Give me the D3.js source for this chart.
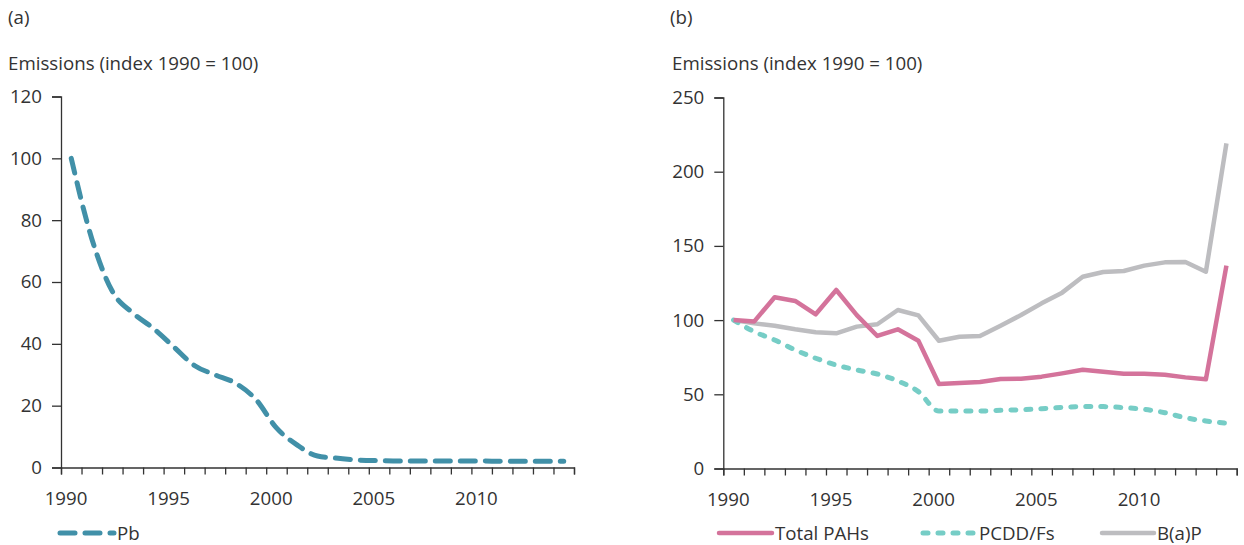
<!DOCTYPE html>
<html>
<head>
<meta charset="utf-8">
<script src="https://cdn.jsdelivr.net/npm/d3@7"></script>
<style>
  html, body { margin: 0; padding: 0; background: #fff; }
  svg { display: block; }
  text { font-family: "Open Sans", "Noto Sans", sans-serif; fill: #333; }
</style>
</head>
<body>
<svg id="chart" width="1244" height="545"></svg>
<script>
// Years covered by both panels
const years = d3.range(1990, 2015);
const yearLabels = [1990, 1995, 2000, 2005, 2010];

// Panel (a): lead
const pb = [100, 74, 57, 50, 45, 39, 33, 30, 27.3, 22, 12.8, 7.3, 3.7, 3.0, 2.4, 2.2, 2.1, 2.1, 2.1, 2.1, 2.1, 2.0, 2.0, 2.0, 2.0];

// Panel (b)
const totalPAHs = [100, 99, 115.4, 112.9, 103.9, 120.3, 103.4, 89.3, 93.8, 86.1, 56.9, 57.6, 58.3, 60.3, 60.5, 61.9, 64.1, 66.6, 65.2, 63.9, 63.9, 63.2, 61.4, 60.1, 136.7];
const pcddFs = [100, 92.2, 86.6, 79.9, 74.3, 69.7, 66.4, 63.7, 59, 51.8, 38.7, 38.7, 38.7, 39.2, 39.6, 40.3, 41.2, 41.7, 41.7, 41, 39.9, 37.6, 34.2, 32, 30.5];
const bap = [100, 97.8, 96.2, 93.8, 91.8, 91.1, 95.6, 97.2, 106.8, 103.2, 86.1, 88.8, 89.3, 96.2, 103.4, 111.3, 118.5, 129.2, 132.4, 133.1, 136.7, 138.9, 139.2, 132.6, 219.1];

const yTicksA = [0, 20, 40, 60, 80, 100, 120];
const yTicksB = [0, 50, 100, 150, 200, 250];

const svg = d3.select("#chart");
const FONT = 18.7;

function drawAxes(g, x, y, yTicks) {
  const xAxis = d3.axisBottom(x)
    .tickValues(d3.range(1990, 2016))
    .tickSize(7)
    .tickPadding(17)
    .tickFormat(d => yearLabels.includes(d) ? String(d) : "");
  const gx = g.append("g")
    .attr("transform", `translate(0,${y(0)})`)
    .call(xAxis);
  gx.selectAll("text").attr("dx", 4.5);

  const yAxis = d3.axisLeft(y)
    .tickValues(yTicks)
    .tickSize(9)
    .tickPadding(10);
  g.append("g")
    .attr("transform", `translate(${x(1990)},0)`)
    .call(yAxis);

  g.selectAll(".domain").attr("stroke", "#333").attr("stroke-width", 1.3);
  g.selectAll(".tick line").attr("stroke", "#333").attr("stroke-width", 1.3);
  g.selectAll(".tick text")
    .style("font-family", '"Open Sans", "Noto Sans", sans-serif')
    .style("font-size", FONT + "px")
    .attr("fill", "#333");
}

function drawSeries(g, x, y, values, style) {
  const line = d3.line()
    .x((d, i) => x(years[i] + 0.5))
    .y(d => y(d))
    .curve(style.smooth ? d3.curveMonotoneX : d3.curveLinear);
  g.append("path")
    .datum(values)
    .attr("d", line)
    .attr("fill", "none")
    .attr("stroke", style.color)
    .attr("stroke-width", style.width)
    .attr("stroke-linecap", style.dash ? "round" : "butt")
    .attr("stroke-linejoin", "round")
    .attr("stroke-dasharray", style.dash || null);
}

function legendItem(g, x0, x1, yLine, label, style) {
  g.append("line")
    .attr("x1", x0).attr("x2", x1)
    .attr("y1", yLine).attr("y2", yLine)
    .attr("stroke", style.color)
    .attr("stroke-width", style.width)
    .attr("stroke-linecap", "round")
    .attr("stroke-dasharray", style.dash || null);
  g.append("text")
    .attr("x", x1 + 3)
    .attr("y", yLine + 7)
    .style("font-size", FONT + "px")
    .text(label);
}

const styles = {
  pb:   { color: "#4190a8", width: 5, dash: "15,10", smooth: true },
  pahs: { color: "#d4739b", width: 4.5 },
  pcdd: { color: "#76cdc6", width: 5, dash: "5,10", smooth: true },
  bap:  { color: "#bdbdc0", width: 4.5 }
};

// ---- Panel (a) ----
const gA = svg.append("g");
const xA = d3.scaleLinear().domain([1990, 2015]).range([61, 574]);
const yA = d3.scaleLinear().domain([0, 120]).range([467.5, 96.5]);

gA.append("text").attr("x", 8).attr("y", 24).style("font-size", FONT + "px").text("(a)");
gA.append("text").attr("x", 8).attr("y", 70).style("font-size", FONT + "px").text("Emissions (index 1990 = 100)");
drawAxes(gA, xA, yA, yTicksA);
drawSeries(gA, xA, yA, pb, styles.pb);
legendItem(gA, 60, 114, 533, "Pb", styles.pb);

// ---- Panel (b) ----
const gB = svg.append("g");
const xB = d3.scaleLinear().domain([1990, 2015]).range([723.3, 1236.7]);
const yB = d3.scaleLinear().domain([0, 250]).range([468.5, 97.5]);

gB.append("text").attr("x", 670).attr("y", 24).style("font-size", FONT + "px").text("(b)");
gB.append("text").attr("x", 672).attr("y", 70).style("font-size", FONT + "px").text("Emissions (index 1990 = 100)");
drawAxes(gB, xB, yB, yTicksB);
drawSeries(gB, xB, yB, bap, styles.bap);
drawSeries(gB, xB, yB, pcddFs, styles.pcdd);
drawSeries(gB, xB, yB, totalPAHs, styles.pahs);

legendItem(gB, 719, 772, 533, "Total PAHs", styles.pahs);
legendItem(gB, 923, 976, 533, "PCDD/Fs", styles.pcdd);
legendItem(gB, 1102, 1154, 533, "B(a)P", styles.bap);
</script>
</body>
</html>
